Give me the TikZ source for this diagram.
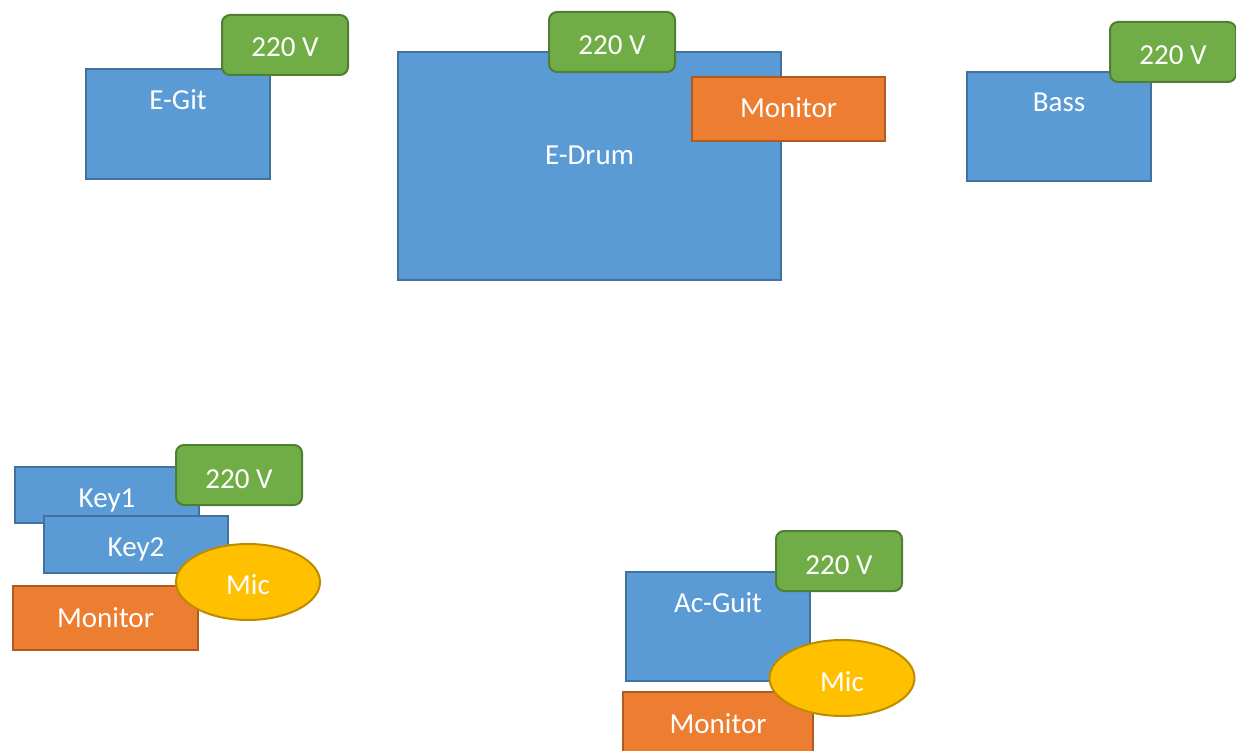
\documentclass[tikz,border=0pt]{standalone}
\usepackage{fontspec}
\setmainfont{Carlito}
\usetikzlibrary{shapes.geometric}
\definecolor{bfill}{HTML}{5B9BD5}
\definecolor{bdraw}{HTML}{41719C}
\definecolor{gfill}{HTML}{70AD47}
\definecolor{gdraw}{HTML}{507E32}
\definecolor{ofill}{HTML}{ED7D31}
\definecolor{odraw}{HTML}{AE5A21}
\definecolor{yfill}{HTML}{FFC000}
\definecolor{ydraw}{HTML}{BC8C00}
\tikzset{
  base box/.style={rectangle, line width=2pt, inner sep=0pt, outer sep=0pt},
  instr/.style={base box, fill=bfill, draw=bdraw},
  power/.style={base box, fill=gfill, draw=gdraw, rounded corners=8pt, minimum width=126pt, minimum height=60pt},
  monbox/.style={base box, fill=ofill, draw=odraw, minimum height=64pt},
  micbox/.style={ellipse, line width=2pt, inner sep=0pt, fill=yfill, draw=ydraw, minimum width=144pt, minimum height=76pt},
  txt/.style={anchor=base, text=white, inner sep=0pt, font=\fontsize{29}{35}\selectfont},
}
\begin{document}
\begin{tikzpicture}[x=1pt,y=-1pt]
\useasboundingbox (0,0) rectangle (1236,751);
% E-Git
\node[instr, minimum width=184pt, minimum height=110pt] (egit) at (178,124) {};
\node[txt] (egitt) at (178,110) {E-Git};
\node[power] (p1) at (285,45) {};
\node[txt] (p1t) at (285,57) {220 V};
% E-Drum
\node[instr, minimum width=383pt, minimum height=228pt] (edrum) at (589.5,166) {};
\node[txt] (edrumt) at (589.5,165) {E-Drum};
\node[power] (p2) at (612,42) {};
\node[txt] (p2t) at (612,55) {220 V};
\node[monbox, minimum width=193pt] (mon1) at (788.5,109) {};
\node[txt] (mon1t) at (788.5,118) {Monitor};
% Bass
\node[instr, minimum width=184pt, minimum height=109pt] (bass) at (1059,126.5) {};
\node[txt] (basst) at (1059,112) {Bass};
\node[power] (p3) at (1173,52) {};
\node[txt] (p3t) at (1173,65) {220 V};
% Keys
\node[instr, minimum width=184pt, minimum height=56pt] (key1) at (107,495) {};
\node[txt] (key1t) at (107,507) {Key1};
\node[power] (p4) at (239,475) {};
\node[txt] (p4t) at (239,488) {220 V};
\node[instr, minimum width=184pt, minimum height=57pt] (key2) at (136,544.5) {};
\node[txt] (key2t) at (136,556) {Key2};
\node[monbox, minimum width=185pt] (mon2) at (105.5,618) {};
\node[txt] (mon2t) at (105.5,627) {Monitor};
\node[micbox] (mic1) at (248,582) {};
\node[txt] (mic1t) at (248,594) {Mic};
% Ac-Guit
\node[instr, minimum width=184pt, minimum height=109pt] (acg) at (718,626.5) {};
\node[txt] (acgt) at (718,612) {Ac-Guit};
\node[power] (p5) at (839,561) {};
\node[txt] (p5t) at (839,574) {220 V};
\node[monbox, minimum width=190pt] (mon3) at (718,724) {};
\node[txt] (mon3t) at (718,733) {Monitor};
\node[micbox, minimum width=145pt] (mic2) at (842,678) {};
\node[txt] (mic2t) at (842,691) {Mic};
\end{tikzpicture}
\end{document}
